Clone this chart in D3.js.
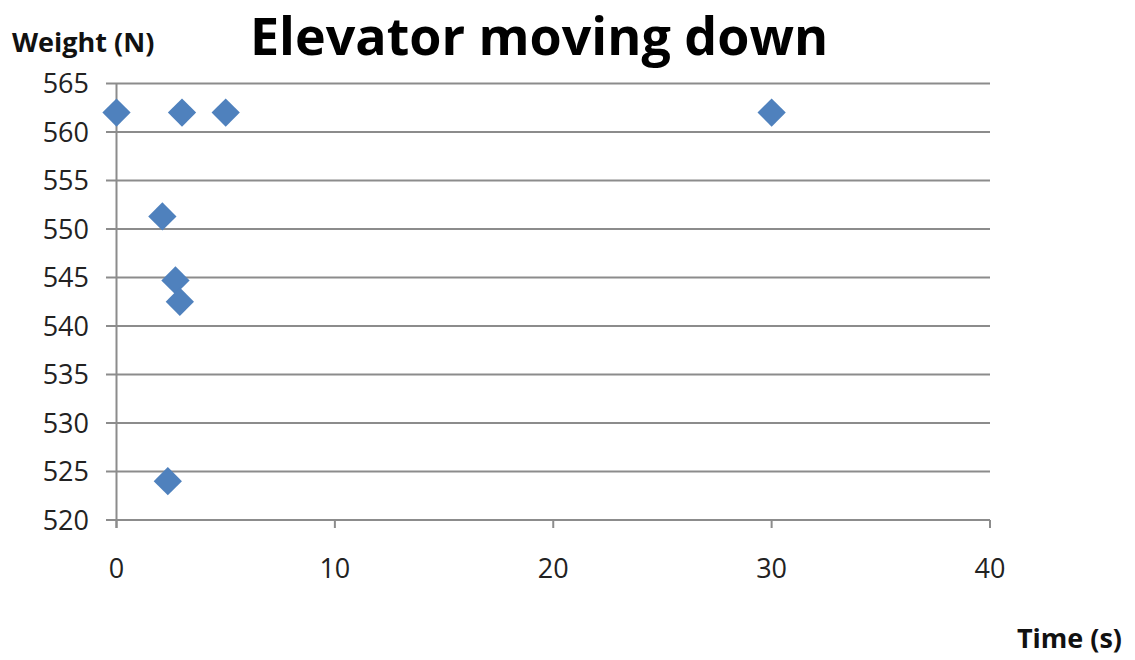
<!DOCTYPE html>
<html><head><meta charset="utf-8">
<script src="https://cdn.jsdelivr.net/npm/d3@7"></script>
<style>body{margin:0;background:#fff;} text{font-family:"Open Sans","Noto Sans",sans-serif;}</style>
</head><body>
<svg id="c" width="1135" height="660"></svg>
<script>
const times = [0, 3, 5, 30, 2.1, 2.7, 2.9, 2.35];
const weights = [562, 562, 562, 562, 551.3, 544.7, 542.5, 524];
const xTicks = [0, 10, 20, 30, 40];
const yTicks = [520, 525, 530, 535, 540, 545, 550, 555, 560, 565];
const title = "Elevator moving down";
const yLabel = "Weight (N)";
const xLabel = "Time (s)";

const svg = d3.select("#c");
const x = d3.scaleLinear().domain([0, 40]).range([116.5, 990]);
const y = d3.scaleLinear().domain([520, 565]).range([520, 83.5]);
const grid = "#8c8c8c";

svg.append("g").selectAll("line").data(yTicks).join("line")
  .attr("x1", 106).attr("x2", 990)
  .attr("y1", d => y(d)).attr("y2", d => y(d))
  .attr("stroke", grid).attr("stroke-width", 2);

svg.append("line").attr("x1", x(0)).attr("x2", x(0)).attr("y1", y(565)).attr("y2", 528)
  .attr("stroke", grid).attr("stroke-width", 2);

svg.append("g").selectAll("line").data(xTicks).join("line")
  .attr("x1", d => x(d)).attr("x2", d => x(d)).attr("y1", 520).attr("y2", 528)
  .attr("stroke", grid).attr("stroke-width", 2);

svg.append("g").selectAll("text").data(yTicks).join("text")
  .attr("x", 89).attr("y", d => y(d)).attr("dy", "0.36em")
  .attr("text-anchor", "end").attr("font-size", 27).attr("fill", "#222")
  .text(d => d);

svg.append("g").selectAll("text").data(xTicks).join("text")
  .attr("x", d => x(d)).attr("y", 578)
  .attr("text-anchor", "middle").attr("font-size", 27).attr("fill", "#222")
  .text(d => d);

const sym = d3.symbol().type(d3.symbolSquare).size(400);
svg.append("g").selectAll("path").data(times.map((t, i) => [t, weights[i]])).join("path")
  .attr("d", sym)
  .attr("transform", d => `translate(${x(d[0])},${y(d[1])}) rotate(45)`)
  .attr("fill", "#4f81bd");

svg.append("text").attr("x", 539).attr("y", 55).attr("text-anchor", "middle")
  .attr("font-size", 52).attr("font-weight", "bold").attr("fill", "#000").text(title);
svg.append("text").attr("x", 12).attr("y", 52)
  .attr("font-size", 27).attr("font-weight", "bold").attr("fill", "#111").text(yLabel);
svg.append("text").attr("x", 1122).attr("y", 648).attr("text-anchor", "end")
  .attr("font-size", 27).attr("font-weight", "bold").attr("fill", "#111").text(xLabel);
</script>
</body></html>
